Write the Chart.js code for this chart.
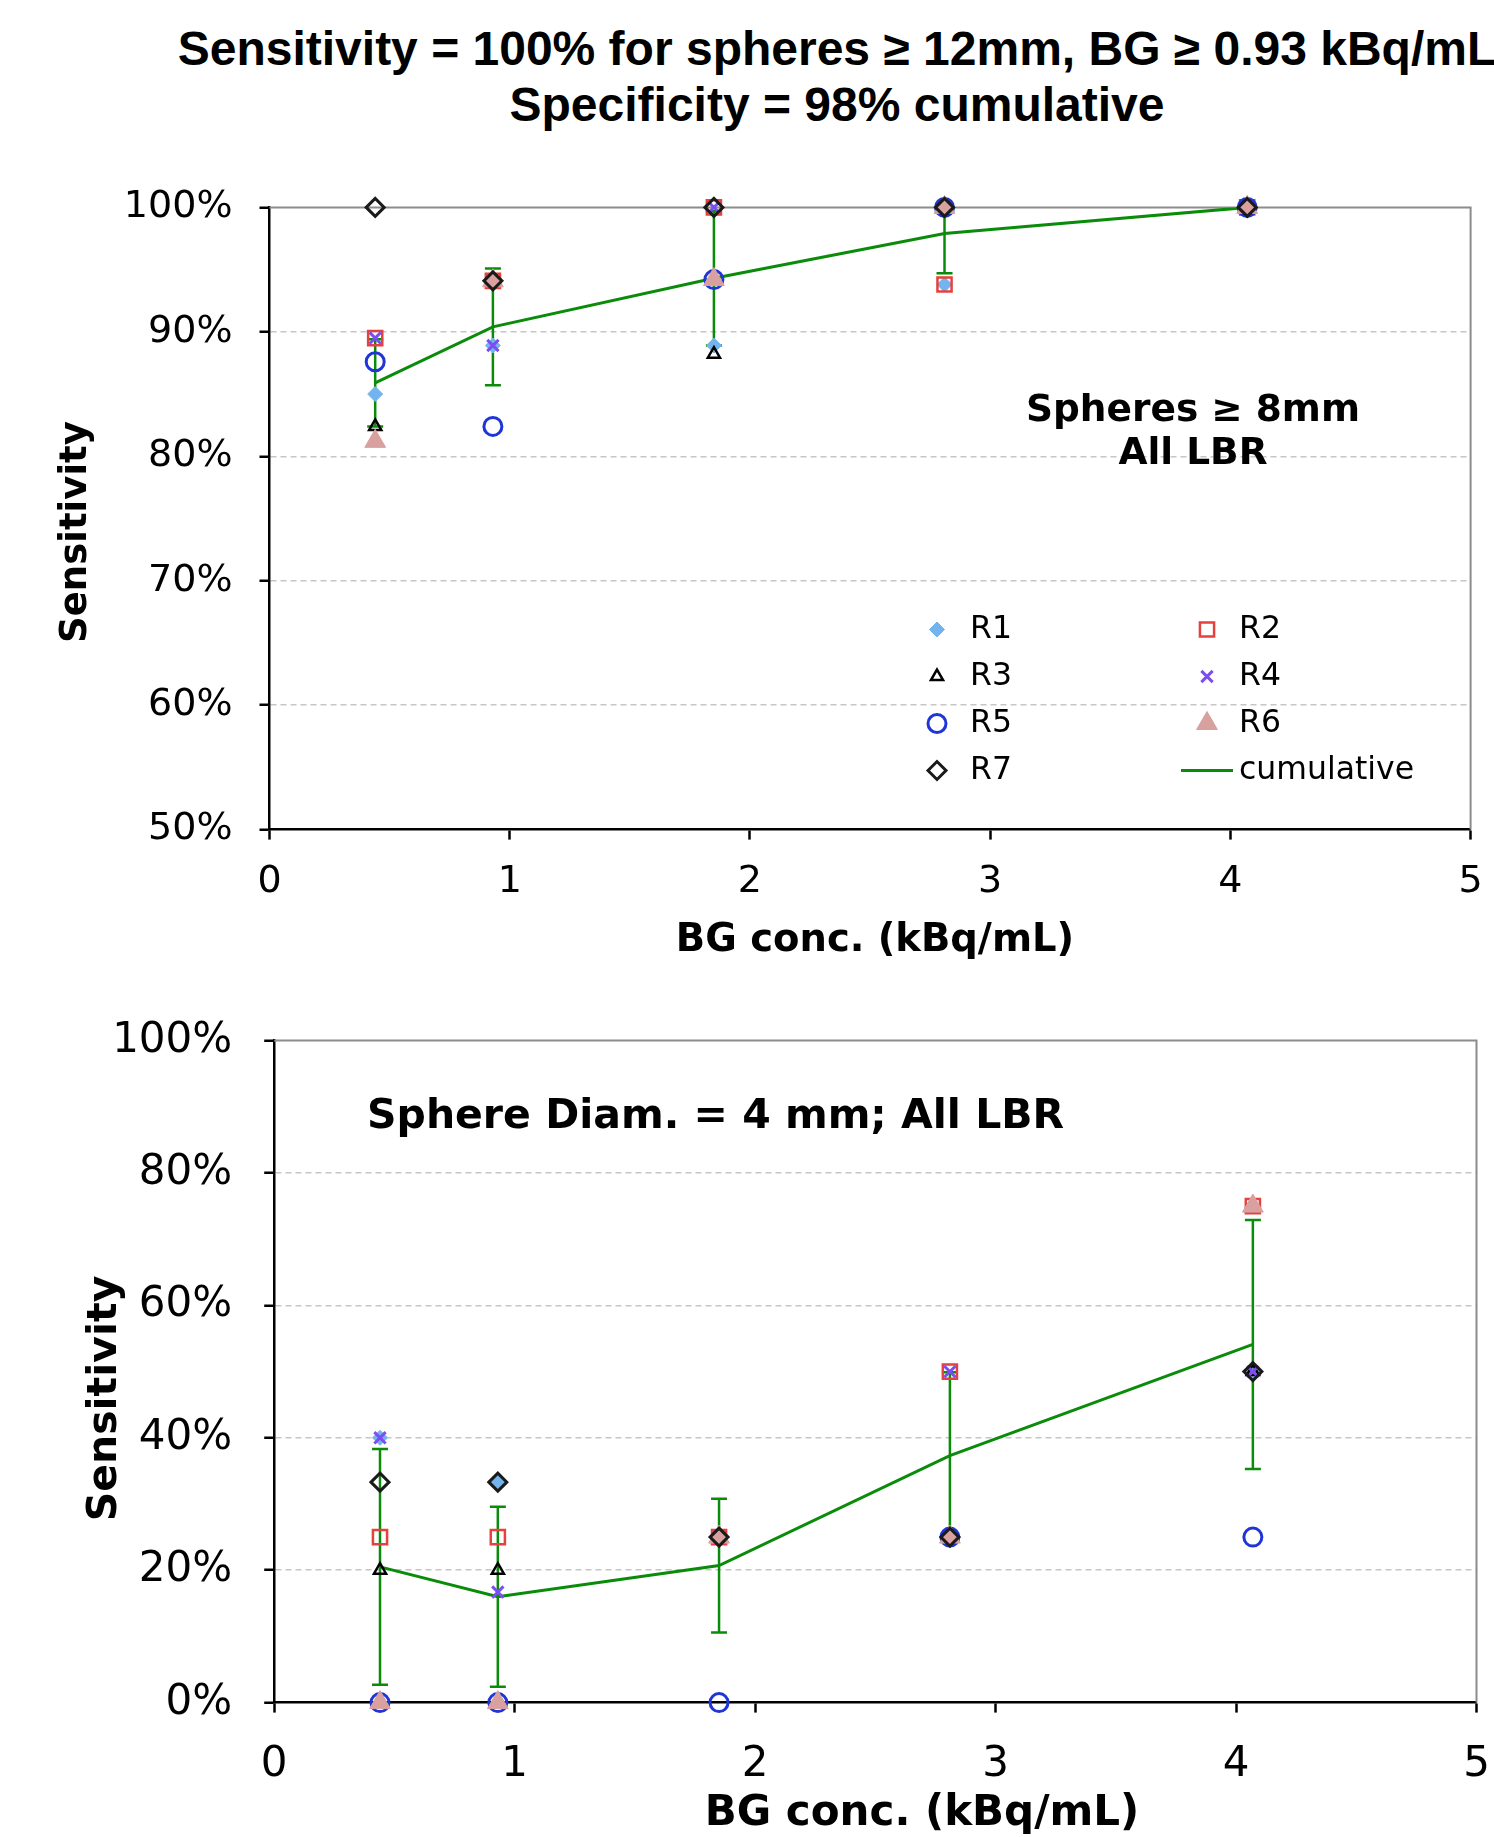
<!DOCTYPE html>
<html>
<head>
<meta charset="utf-8">
<script src="https://cdn.jsdelivr.net/npm/chart.js@4.4.1/dist/chart.umd.min.js"></script>
<style>
  html, body { margin: 0; padding: 0; background: #fff; width: 1494px; height: 1837px; overflow: hidden; }
  #title { position: absolute; left: 0; top: 21px; width: 1674px; text-align: center; white-space: nowrap;
           font-family: 'Liberation Sans', Arial, sans-serif; font-weight: bold; font-size: 48px; line-height: 56px; color: #000; }
  canvas { position: absolute; left: 0; }
  #c1 { top: 0; }
  #c2 { top: 960px; }
</style>
</head>
<body>
<div id="title">Sensitivity = 100% for spheres ≥ 12mm, BG ≥ 0.93 kBq/mL<br>Specificity = 98% cumulative</div>
<canvas id="c1" width="1494" height="960"></canvas>
<canvas id="c2" width="1494" height="877"></canvas>
<script>
// ---------- DATA ----------
const bgConc = [0.44, 0.93, 1.85, 2.81, 4.07];          // BG conc. (kBq/mL)
const readerNames = ['R1', 'R2', 'R3', 'R4', 'R5', 'R6', 'R7'];
const xTickValues = [0, 1, 2, 3, 4, 5];
const yTicksTop = [50, 60, 70, 80, 90, 100];
const yTicksBottom = [0, 20, 40, 60, 80, 100];

// Top panel: spheres >= 8mm, all LBR (sensitivity %)
const r1Top = [85.0, 88.9, 88.9, 93.8, 100];
const r2Top = [89.5, 94.1, 100, 93.8, 100];
const r3Top = [82.4, 94.1, 88.2, 100, 100];
const r4Top = [89.5, 88.9, 100, 100, 100];
const r5Top = [87.6, 82.4, 94.2, 100, 100];
const r6Top = [81.2, 94.1, 94.2, 100, 100];
const r7Top = [100, 94.1, 100, 100, 100];
const cumTop = [85.9, 90.4, 94.3, 97.9, 100];
const errTop = [3.5, 4.7, 5.4, 3.2, 0];

// Bottom panel: sphere diam. = 4 mm, all LBR (sensitivity %)
const r1Bot = [40, 33.3, 25, 25, 50];
const r2Bot = [25, 25, 25, 50, 75];
const r3Bot = [20, 20, 25, 25, 50];
const r4Bot = [40, 16.7, 25, 50, 50];
const r5Bot = [0, 0, 0, 25, 25];
const r6Bot = [0, 0, 25, 25, 75];
const r7Bot = [33.3, 33.3, 25, 25, 50];
const cumBot = [20.5, 16.0, 20.7, 37.3, 54.1];
const errBot = [17.8, 13.6, 10.1, 12.6, 18.8];

// ---------- STYLES ----------
const readerStyles = [
  { pointStyle: 'rectRot',  radius: 7.5, bg: '#74b4ee', border: '#74b4ee', bw: 1 },
  { pointStyle: 'rect',     radius: 10,  bg: 'rgba(0,0,0,0)', border: '#e5423d', bw: 2.5 },
  { pointStyle: 'triangle', radius: 7,   bg: 'rgba(0,0,0,0)', border: '#000000', bw: 2.5 },
  { pointStyle: 'crossRot', radius: 8,   bg: '#7b4ef2', border: '#7b4ef2', bw: 3 },
  { pointStyle: 'circle',   radius: 9,   bg: 'rgba(0,0,0,0)', border: '#1f35d6', bw: 3 },
  { pointStyle: 'triangle', radius: 12,  bg: '#d8a09f', border: '#d8a09f', bw: 1 },
  { pointStyle: 'rectRot',  radius: 9,   bg: 'rgba(0,0,0,0)', border: '#1a1a1a', bw: 3 }
];
const cumColor = '#0a8c0a';
const tickFont = 'DejaVu Sans';

function pts(ys) { return bgConc.map((x, i) => ({ x: x, y: ys[i] })); }

function buildDatasets(readers, cum) {
  const ds = readers.map((ys, i) => {
    const s = readerStyles[i];
    return {
      type: 'scatter', label: readerNames[i], data: pts(ys),
      pointStyle: s.pointStyle, pointRadius: s.radius, pointBackgroundColor: s.bg,
      pointBorderColor: s.border, pointBorderWidth: s.bw, showLine: false,
      order: 8 - i, clip: false
    };
  });
  ds.push({
    type: 'line', label: 'cumulative', data: pts(cum), borderColor: cumColor, borderWidth: 3,
    pointRadius: 0, fill: false, tension: 0, order: 20
  });
  return ds;
}

// ---------- PLUGINS ----------
const errorBarPlugin = {
  id: 'errbars',
  beforeDatasetsDraw(chart, args, o) {
    const { ctx, chartArea: a, scales: { x, y } } = chart;
    ctx.save();
    ctx.beginPath();
    ctx.rect(a.left, a.top - 1, a.right - a.left, a.bottom - a.top + 2);
    ctx.clip();
    ctx.strokeStyle = o.color; ctx.lineWidth = o.width; ctx.setLineDash([]);
    bgConc.forEach((xv, i) => {
      const e = o.err[i];
      if (!e) return;
      const px = x.getPixelForValue(xv);
      const t = y.getPixelForValue(o.mean[i] + e), b = y.getPixelForValue(o.mean[i] - e);
      ctx.beginPath();
      ctx.moveTo(px, t); ctx.lineTo(px, b);
      ctx.moveTo(px - o.cap, t); ctx.lineTo(px + o.cap, t);
      ctx.moveTo(px - o.cap, b); ctx.lineTo(px + o.cap, b);
      ctx.stroke();
    });
    ctx.restore();
  }
};

const framePlugin = {
  id: 'frame',
  beforeDatasetsDraw(chart) {
    const { ctx, chartArea: a } = chart;
    ctx.save();
    ctx.strokeStyle = '#8c8c8c'; ctx.lineWidth = 2; ctx.setLineDash([]);
    ctx.beginPath();
    ctx.moveTo(a.left, a.top); ctx.lineTo(a.right, a.top); ctx.lineTo(a.right, a.bottom);
    ctx.stroke();
    ctx.restore();
  }
};

const textPlugin = {
  id: 'texts',
  afterDraw(chart, args, o) {
    const ctx = chart.ctx;
    ctx.save();
    ctx.fillStyle = '#000';
    ctx.textAlign = 'center'; ctx.textBaseline = 'middle';
    // x-axis title
    ctx.font = 'bold ' + o.xTitle.size + 'px "DejaVu Sans"';
    ctx.fillText(o.xTitle.text, o.xTitle.x, o.xTitle.y);
    // y-axis title
    ctx.save();
    ctx.translate(o.yTitle.x, o.yTitle.y);
    ctx.rotate(-Math.PI / 2);
    ctx.font = 'bold ' + o.yTitle.size + 'px "DejaVu Sans"';
    ctx.fillText(o.yTitle.text, 0, 0);
    ctx.restore();
    // annotation
    ctx.font = 'bold ' + o.note.size + 'px "DejaVu Sans"';
    ctx.textAlign = o.note.align;
    o.note.lines.forEach((t, i) => ctx.fillText(t, o.note.x, o.note.y + i * o.note.gap));
    ctx.restore();
  }
};

const legendPlugin = {
  id: 'gridLegend',
  afterDraw(chart, args, o) {
    if (!o.show) return;
    const ctx = chart.ctx;
    const H = Chart.helpers;
    ctx.save();
    chart.data.datasets.forEach((ds, i) => {
      const col = i % 2, row = Math.floor(i / 2);
      const mx = o.colX[col], my = o.rowY[row];
      ctx.setLineDash([]);
      if (ds.type === 'line') {
        ctx.strokeStyle = ds.borderColor; ctx.lineWidth = ds.borderWidth;
        ctx.beginPath(); ctx.moveTo(mx - o.lineHalf, my); ctx.lineTo(mx + o.lineHalf, my); ctx.stroke();
      } else {
        ctx.fillStyle = ds.pointBackgroundColor; ctx.strokeStyle = ds.pointBorderColor;
        ctx.lineWidth = ds.pointBorderWidth;
        if (H && H.drawPoint) {
          H.drawPoint(ctx, { pointStyle: ds.pointStyle, radius: ds.pointRadius, rotation: 0, borderWidth: ds.pointBorderWidth }, mx, my);
        }
      }
      ctx.fillStyle = '#000';
      ctx.font = o.size + 'px "DejaVu Sans"';
      ctx.textAlign = 'left'; ctx.textBaseline = 'middle';
      ctx.fillText(ds.label, o.textX[col], my);
    });
    ctx.restore();
  }
};

function makeChart(id, cfg) {
  return new Chart(document.getElementById(id), {
    type: 'scatter',
    data: { datasets: buildDatasets(cfg.readers, cfg.cum) },
    plugins: [framePlugin, errorBarPlugin, textPlugin, legendPlugin],
    options: {
      responsive: false, animation: false, devicePixelRatio: 1,
      layout: { padding: cfg.padding },
      events: [],
      plugins: {
        legend: { display: false }, tooltip: { enabled: false }, title: { display: false },
        errbars: { mean: cfg.cum, err: cfg.err, color: cumColor, width: 2.5, cap: 8 },
        texts: cfg.texts,
        gridLegend: cfg.legend
      },
      scales: {
        x: {
          type: 'linear', min: 0, max: 5,
          afterBuildTicks: s => { s.ticks = xTickValues.map(v => ({ value: v })); },
          afterFit: s => { s.height = cfg.xHeight; s.paddingLeft = 0; s.paddingRight = 0; },
          ticks: { font: { family: tickFont, size: cfg.tickSize }, color: '#000', padding: cfg.xTickPad, maxRotation: 0, callback: v => String(v) },
          grid: { drawOnChartArea: false, drawTicks: true, tickLength: 10, tickColor: '#000', tickWidth: 2.5 },
          border: { color: '#000', width: 2.5 },
          title: { display: false }
        },
        y: {
          type: 'linear', min: cfg.yTicks[0], max: cfg.yTicks[cfg.yTicks.length - 1],
          afterBuildTicks: s => { s.ticks = cfg.yTicks.map(v => ({ value: v })); },
          afterFit: s => { s.width = cfg.yWidth; s.paddingTop = 0; s.paddingBottom = 0; },
          ticks: { font: { family: tickFont, size: cfg.tickSize }, color: '#000', padding: cfg.yTickPad, callback: v => v + '%' },
          grid: {
            color: c => (c.tick && (c.tick.value === cfg.yTicks[0] || c.tick.value === cfg.yTicks[cfg.yTicks.length - 1])) ? 'rgba(0,0,0,0)' : '#c6c6c6',
            lineWidth: 1.5, drawTicks: true, tickLength: 10, tickColor: '#000', tickWidth: 2.5, tickBorderDash: []
          },
          border: { color: '#000', width: 2.5, dash: [6, 4] }
        }
      }
    }
  });
}

makeChart('c1', {
  readers: [r1Top, r2Top, r3Top, r4Top, r5Top, r6Top, r7Top], cum: cumTop, err: errTop,
  yTicks: yTicksTop, padding: { top: 207.4, right: 23.4, bottom: 0, left: 0 },
  yWidth: 269.5, xHeight: 130.4, tickSize: 38, xTickPad: 20, yTickPad: 27,
  texts: { xTitle: { text: 'BG conc. (kBq/mL)', x: 875, y: 941, size: 38.5 },
           yTitle: { text: 'Sensitivity', x: 76, y: 532, size: 37 },
           note: { lines: ['Spheres ≥ 8mm', 'All LBR'], x: 1193, y: 411.5, gap: 43, size: 37.5, align: 'center' } },
  legend: { show: true, colX: [937, 1207], textX: [970, 1239], rowY: [629.5, 676.5, 723.5, 770.5], size: 31.5, lineHalf: 26 }
});

makeChart('c2', {
  readers: [r1Bot, r2Bot, r3Bot, r4Bot, r5Bot, r6Bot, r7Bot], cum: cumBot, err: errBot,
  yTicks: yTicksBottom, padding: { top: 80.6, right: 17.5, bottom: 0, left: 0 },
  yWidth: 274.2, xHeight: 134.4, tickSize: 42, xTickPad: 27, yTickPad: 32,
  texts: { xTitle: { text: 'BG conc. (kBq/mL)', x: 922, y: 854, size: 42 },
           yTitle: { text: 'Sensitivity', x: 105, y: 438.5, size: 41 },
           note: { lines: ['Sphere Diam. = 4 mm; All LBR'], x: 367, y: 157.7, gap: 0, size: 41, align: 'left' } },
  legend: { show: false }
});
</script>
</body>
</html>
